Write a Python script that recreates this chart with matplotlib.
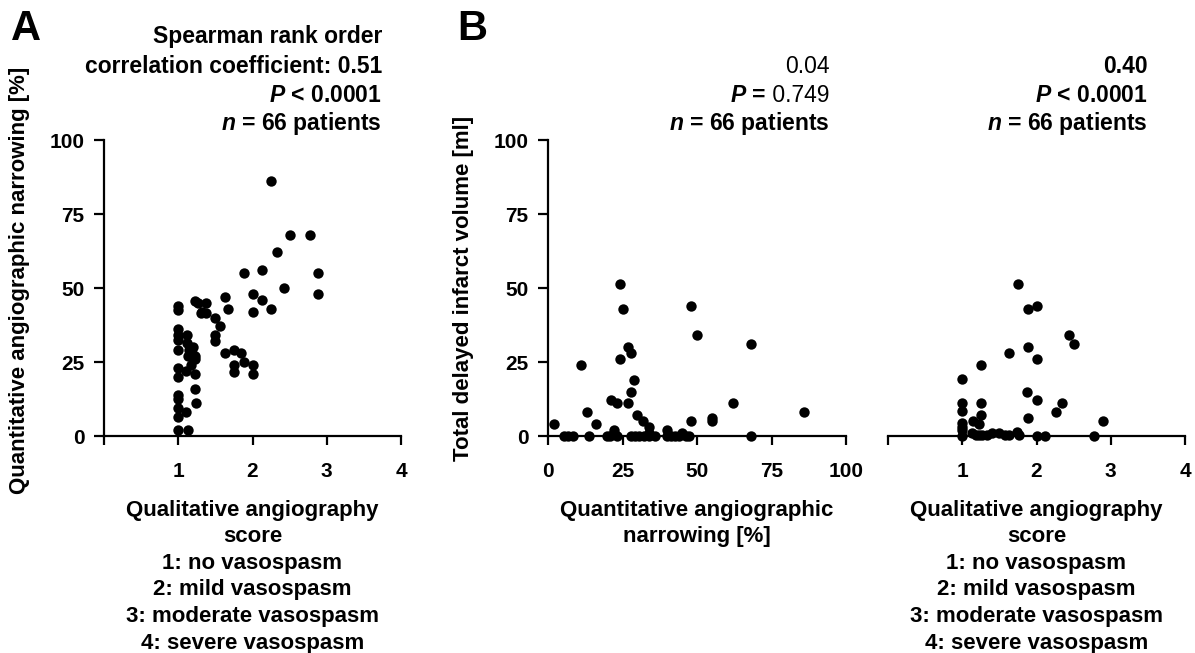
import matplotlib
matplotlib.use("Agg")
import matplotlib.pyplot as plt

plt.rcParams["font.family"] = ["Liberation Sans", "DejaVu Sans"]
plt.rcParams["font.weight"] = "bold"
plt.rcParams["axes.labelweight"] = "bold"
plt.rcParams["mathtext.fontset"] = "custom"
plt.rcParams["mathtext.rm"] = "Liberation Sans"
plt.rcParams["mathtext.it"] = "Liberation Sans:italic:bold"
plt.rcParams["mathtext.bf"] = "Liberation Sans:bold"

# Panel A: qualitative score vs quantitative narrowing [%]
score_a = [2.25, 2.5, 2.78, 2.33, 1.88, 2.13, 2.88, 2.43, 2.88, 2.0, 2.13, 2.25, 2.0,
           1.63, 1.67, 1.22, 1.27, 1.38, 1.32, 1.37, 1.5, 1.56, 1.5, 1.5, 1.63, 1.75,
           1.84, 1.88, 1.75, 1.75, 2.0, 2.0,
           1.0, 1.0, 1.0, 1.0, 1.0, 1.0, 1.0, 1.0, 1.0, 1.0, 1.0, 1.0, 1.0,
           1.11, 1.13, 1.12, 1.12, 1.14, 1.13, 1.11, 1.2, 1.22, 1.23, 1.22, 1.22, 1.24,
           1.17, 1.18, 1.3]
narrowing_a = [86, 68, 68, 62, 55, 56, 55, 50, 48, 48, 46, 43, 42,
               47, 43, 45.5, 45, 45, 42, 41.5, 40, 37, 34, 32, 28, 29,
               28, 25, 24, 21.5, 24, 21,
               44, 42.5, 36, 34, 32.5, 29, 23, 20, 14, 12.5, 9.5, 6.5, 2,
               8, 2, 34, 31.5, 29, 27, 22, 30, 27, 26, 21, 16, 11,
               24, 28, 41.5]

# Panel B (middle): quantitative narrowing [%] vs infarct volume [ml]
narrowing_b = [24, 25, 48, 50, 68, 27, 28, 24, 11, 29, 28, 21, 23, 27, 62, 13, 86, 30,
               32, 48, 55, 55, 2, 16, 34, 22, 40, 45, 22, 34,
               5.4, 6.8, 8.5, 13.9, 19.8, 20.9, 23.2, 27.7, 29.2, 30.5, 32.2, 33.9,
               35.9, 39.9, 41.2, 42.6, 43.8, 46.3, 47.2, 68.1]
volume_b = [51.4, 43, 44, 34, 31, 30, 28, 26, 24, 19, 15, 12, 11, 11, 11, 8, 8, 7,
            5, 5, 6, 5, 4, 4, 3, 2, 2, 1, 1, 1,
            0, 0, 0, 0, 0, 0, 0, 0, 0, 0, 0, 0,
            0, 0, 0, 0, 0, 0, 0, 0]

# Panel B (right): qualitative score vs infarct volume [ml]
score_c = [1.75, 1.88, 2.01, 2.44, 2.51, 1.88, 1.63, 2.01, 1.25, 1.0, 1.87, 2.01, 2.35,
           2.26, 1.0, 1.0, 1.25, 1.25, 1.88, 2.89, 1.0, 1.0, 1.14, 1.23,
           1.0, 1.0, 1.13, 1.18, 1.22, 1.27, 1.34, 1.4, 1.49, 1.58, 1.63, 1.74, 1.76,
           2.0, 2.12, 2.77]
volume_c = [51.4, 43, 44, 34, 31, 30, 28, 26, 24, 19.3, 15, 12, 11,
            8, 11, 8.5, 11, 7, 6, 5, 4.5, 3, 5, 4,
            0, 2, 1, 0.5, 0.5, 0.5, 0.5, 1, 1, 0.5, 0.5, 1.5, 0.5,
            0, 0, 0]

score_ticks = [0, 1, 2, 3, 4]
score_ticklabels = ["", "1", "2", "3", "4"]
pct_ticks = [0, 25, 50, 75, 100]

score_label = ("Qualitative angiography\nscore\n1: no vasospasm\n2: mild vasospasm\n"
               "3: moderate vasospasm\n4: severe vasospasm")

TICK_FS = 15
LABEL_FS = 16
STAT_FS = 16.5
LS = 1.35
W, H = 1195, 653
fig = plt.figure(figsize=(W / 100, H / 100), dpi=100)


def make_axes(left_px, width_px, left_spine=True):
    ax = fig.add_axes([left_px / W, (H - 436) / H, width_px / W, 296 / H])
    for side in ("top", "right"):
        ax.spines[side].set_visible(False)
    ax.spines["left"].set_visible(left_spine)
    for side in ("left", "bottom"):
        ax.spines[side].set_linewidth(1.6)
    ax.tick_params(axis="x", direction="out", length=6.5, width=1.6, pad=12,
                   labelsize=TICK_FS)
    ax.tick_params(axis="y", direction="out", length=7, width=1.6, pad=7,
                   labelsize=TICK_FS)
    ax.set_ylim(0, 100)
    if left_spine:
        ax.set_yticks(pct_ticks)
    else:
        ax.set_yticks([])
    return ax


def dots(ax, x, y):
    ax.scatter(x, y, s=56, c="black", linewidths=0, clip_on=False, zorder=4)


# Panel A
ax_a = make_axes(104, 297)
dots(ax_a, score_a, narrowing_a)
ax_a.set_xlim(0, 4)
ax_a.set_xticks(score_ticks, score_ticklabels)
ax_a.set_ylabel("Quantitative angiographic narrowing [%]", fontsize=LABEL_FS)
ax_a.yaxis.set_label_coords(-0.25, 0.525)
ax_a.set_xlabel(score_label, fontsize=LABEL_FS, linespacing=LS, va="top")
ax_a.xaxis.set_label_coords(0.5, -0.215)

# Panel B middle
ax_b = make_axes(548, 298)
dots(ax_b, narrowing_b, volume_b)
ax_b.set_xlim(0, 100)
ax_b.set_xticks(pct_ticks)
ax_b.set_ylabel("Total delayed infarct volume [ml]", fontsize=LABEL_FS)
ax_b.yaxis.set_label_coords(-0.25, 0.5)
ax_b.set_xlabel("Quantitative angiographic\nnarrowing [%]", fontsize=LABEL_FS,
                linespacing=LS, va="top")
ax_b.xaxis.set_label_coords(0.5, -0.215)

# Panel B right
ax_c = make_axes(888, 297, left_spine=False)
dots(ax_c, score_c, volume_c)
ax_c.set_xlim(0, 4)
ax_c.set_xticks(score_ticks, score_ticklabels)
ax_c.set_xlabel(score_label, fontsize=LABEL_FS, linespacing=LS, va="top")
ax_c.xaxis.set_label_coords(0.5, -0.215)

# panel letters
fig.text(11 / W, 1 - 40 / H, "A", fontsize=30, fontweight="bold", va="baseline")
fig.text(457 / W, 1 - 40 / H, "B", fontsize=30, fontweight="bold", va="baseline")

# statistics
base = [43, 73, 102, 130]
stats_a = ["Spearman rank order", "correlation coefficient: 0.51",
           r"$\mathit{P}$ < 0.0001", r"$\mathit{n}$ = 66 patients"]
for yy, s in zip(base, stats_a):
    fig.text(382 / W, 1 - yy / H, s, ha="right", va="baseline", fontsize=STAT_FS,
             fontweight="bold")

fig.text(830 / W, 1 - base[1] / H, "0.04", ha="right", va="baseline",
         fontsize=STAT_FS, fontweight="normal")
# "P =" bold, the value in regular weight
p_val = fig.text(830 / W, 1 - base[2] / H, " 0.749", ha="right", va="baseline",
                 fontsize=STAT_FS, fontweight="normal")
fig.add_artist(plt.Annotation(r"$\mathit{P}$ =", xy=(0, 0), xycoords=p_val,
                              ha="right", va="bottom", fontsize=STAT_FS,
                              fontweight="bold"))
fig.text(830 / W, 1 - base[3] / H, r"$\mathit{n}$ = 66 patients", ha="right",
         va="baseline", fontsize=STAT_FS, fontweight="bold")

stats_c = ["0.40", r"$\mathit{P}$ < 0.0001", r"$\mathit{n}$ = 66 patients"]
for yy, s in zip(base[1:], stats_c):
    fig.text(1148 / W, 1 - yy / H, s, ha="right", va="baseline", fontsize=STAT_FS,
             fontweight="bold")

fig.savefig("out.png", dpi=100, facecolor="white")
